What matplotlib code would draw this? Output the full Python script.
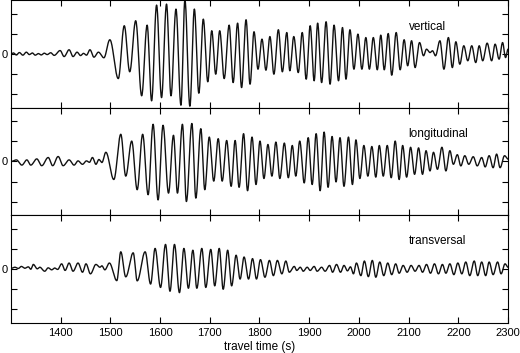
import numpy as np
import matplotlib
matplotlib.use('Agg')
import matplotlib.pyplot as plt

plt.rcParams['font.family'] = ['Liberation Sans', 'DejaVu Sans']

# extrema (time s, amplitude)
vert_t = [1300, 1305, 1311, 1317, 1324, 1331, 1337, 1343, 1349, 1355, 1361, 1367, 1373, 1380, 1387,
          1399, 1407, 1417, 1425, 1433, 1440, 1446, 1452, 1459, 1467, 1476, 1487, 1499, 1516, 1528,
          1539, 1551, 1563, 1574, 1583, 1593, 1603, 1613, 1622, 1632, 1642, 1650, 1660, 1669, 1678,
          1687, 1696, 1704, 1712, 1720, 1729, 1739, 1747, 1756, 1764, 1773, 1781, 1789, 1797, 1805,
          1813, 1821, 1829, 1838, 1846, 1855, 1861, 1869, 1878, 1886, 1894, 1902, 1910, 1917, 1925,
          1934, 1942, 1950, 1959, 1967, 1974, 1982, 1990, 1998, 2006, 2014, 2021, 2029, 2037, 2044,
          2051, 2059, 2066, 2075, 2083, 2091, 2098, 2106, 2113, 2122, 2130, 2136, 2143, 2148, 2154,
          2163, 2171, 2180, 2188, 2195, 2203, 2211, 2219, 2227, 2235, 2242, 2249, 2258, 2267, 2274,
          2282, 2289, 2295, 2300]
vert_a = [0.0, 0.06, -0.04, 0.08, -0.05, 0.1, -0.02, 0.06, -0.05, 0.03, -0.04, 0.05, -0.02, 0.07, -0.06,
          0.18, -0.12, 0.22, -0.12, 0.1, -0.07, 0.04, -0.05, 0.22, -0.15, 0.1, -0.18, 0.72, -1.22, 1.42,
          -0.88, 1.67, -2.08, 1.45, -2.33, 2.45, -2.17, 2.5, -2.08, 2.25, -2.55, 2.7, -2.6, 2.25, -1.95,
          1.75, -1.38, 1.17, -1.0, 1.17, -1.22, 1.45, -1.42, 1.55, -1.67, 1.72, -1.5, 1.12, -0.75, 0.75,
          -0.8, 0.88, -1.0, 1.22, -0.88, 1.08, -0.83, 0.88, -0.92, 1.08, -1.25, 1.42, -1.33, 1.55, -1.42,
          1.62, -1.5, 1.45, -1.33, 1.33, -1.25, 1.22, -0.75, 1.0, -0.75, 0.83, -0.75, 0.83, -0.78, 0.95,
          -0.78, 1.03, -1.05, 1.08, -0.78, 0.72, -0.58, 0.67, -0.67, 0.58, -0.08, 0.25, 0.08, 0.17, -0.08,
          0.67, -0.75, 0.83, -0.67, 0.62, -0.5, 0.42, -0.33, 0.42, -0.42, 0.42, -0.33, 0.55, -0.33, 0.5,
          -0.25, 0.58, -0.17, 0.25]

long_t = [1300, 1311, 1322, 1332, 1340, 1352, 1362, 1375, 1384, 1395, 1405, 1417, 1427, 1435, 1444,
          1452, 1458, 1464, 1471, 1477, 1483, 1491, 1507, 1521, 1531, 1543, 1554, 1565, 1576, 1586,
          1596, 1606, 1617, 1627, 1635, 1645, 1653, 1664, 1672, 1682, 1690, 1699, 1708, 1717, 1725,
          1734, 1743, 1751, 1759, 1768, 1776, 1785, 1793, 1801, 1809, 1817, 1825, 1833, 1841, 1850,
          1858, 1866, 1873, 1881, 1890, 1898, 1906, 1914, 1922, 1930, 1938, 1946, 1954, 1962, 1970,
          1979, 1987, 1994, 2002, 2010, 2018, 2026, 2034, 2041, 2049, 2057, 2065, 2073, 2081, 2088,
          2096, 2104, 2112, 2120, 2128, 2135, 2143, 2150, 2158, 2167, 2175, 2183, 2190, 2198, 2205,
          2213, 2221, 2230, 2238, 2247, 2254, 2262, 2270, 2277, 2284, 2293, 2300]
long_a = [0.0, 0.08, -0.18, 0.08, -0.18, 0.13, -0.21, 0.2, -0.21, 0.25, -0.21, 0.08, -0.18, 0.03, -0.14,
          0.03, -0.04, 0.2, -0.14, 0.1, -0.05, 0.46, -0.9, 1.36, -0.73, 1.02, -1.41, 1.36, -1.66, 1.86,
          -1.92, 1.81, -1.58, 1.31, -1.58, 1.86, -2.0, 1.9, -1.83, 1.64, -1.41, 1.22, -0.98, 1.14, -0.98,
          1.05, -1.24, 1.05, -1.29, 1.39, -1.46, 1.22, -1.15, 1.02, -0.85, 0.85, -0.73, 0.97, -0.85, 0.92,
          -0.81, 0.8, -0.73, 1.02, -1.07, 1.19, -1.15, 1.39, -1.46, 1.47, -1.29, 1.25, -1.02, 1.19, -1.24,
          1.22, -1.15, 1.08, -0.85, 0.8, -0.73, 0.75, -0.78, 0.8, -0.73, 0.8, -0.81, 1.02, -0.9, 0.8,
          -0.78, 0.71, -0.64, 0.68, -0.64, 0.54, -0.47, 0.46, -0.39, 0.71, -0.47, 0.54, -0.14, 0.34, -0.22,
          0.29, -0.14, 0.24, -0.22, 0.2, -0.27, 0.29, -0.31, 0.37, -0.31, 0.29, 0.12]

trans_t = [1300, 1308, 1315, 1321, 1328, 1335, 1340, 1345, 1353, 1358, 1368, 1375, 1382, 1388, 1394,
           1402, 1409, 1417, 1425, 1435, 1444, 1451, 1460, 1471, 1479, 1483, 1489, 1498, 1513, 1521,
           1531, 1546, 1554, 1570, 1581, 1590, 1601, 1611, 1620, 1629, 1639, 1648, 1657, 1666, 1674,
           1684, 1692, 1702, 1710, 1719, 1727, 1736, 1744, 1753, 1761, 1769, 1778, 1786, 1794, 1802,
           1811, 1820, 1828, 1836, 1845, 1853, 1860, 1870, 1875, 1882, 1888, 1896, 1902, 1910, 1916,
           1925, 1932, 1941, 1947, 1955, 1963, 1970, 1977, 1983, 1989, 1995, 2004, 2011, 2019, 2027,
           2034, 2042, 2050, 2058, 2066, 2074, 2081, 2089, 2097, 2105, 2113, 2121, 2128, 2136, 2144,
           2152, 2160, 2168, 2175, 2183, 2191, 2199, 2207, 2215, 2223, 2232, 2239, 2247, 2255, 2262,
           2270, 2279, 2286, 2294, 2300]
trans_a = [0.02, 0.08, 0.02, 0.12, 0.03, 0.1, -0.02, 0.22, 0.0, 0.08, -0.12, 0.05, -0.05, 0.04, -0.03,
           0.25, -0.08, 0.29, -0.12, 0.29, -0.17, 0.25, -0.25, 0.22, 0.08, 0.15, -0.05, 0.29, -0.59, 0.85,
           -0.4, 0.8, -0.6, 0.85, -0.76, 1.02, -0.93, 1.22, -1.12, 1.22, -1.19, 1.02, -0.97, 0.93, -0.97,
           1.02, -0.93, 0.97, -0.85, 1.02, -1.02, 0.93, -0.85, 0.68, -0.51, 0.59, -0.51, 0.51, -0.51, 0.46,
           -0.42, 0.42, -0.34, 0.42, -0.25, 0.39, -0.17, 0.12, -0.08, 0.08, -0.12, 0.08, -0.08, 0.12, -0.12,
           0.08, -0.12, 0.17, -0.17, 0.22, -0.17, 0.17, -0.1, 0.1, -0.25, 0.29, -0.34, 0.39, -0.39, 0.42,
           -0.42, 0.34, -0.34, 0.29, -0.29, 0.25, -0.22, 0.17, -0.17, 0.17, -0.12, 0.17, -0.17, 0.22, -0.22,
           0.25, -0.25, 0.22, -0.22, 0.25, -0.29, 0.29, -0.25, 0.34, -0.34, 0.39, -0.34, 0.34, -0.34, 0.34,
           -0.29, 0.34, -0.25, 0.25, 0.08]

labels = ['vertical', 'longitudinal', 'transversal']
xticks = [1400, 1500, 1600, 1700, 1800, 1900, 2000, 2100, 2200, 2300]


def smooth_trace(t_ext, a_ext, n=20):
    # half-cosine between successive extrema so the trace looks like a wave
    ts, ys = [], []
    s = np.linspace(0, 1, n, endpoint=False)
    for i in range(len(t_ext) - 1):
        ts.append(t_ext[i] + (t_ext[i + 1] - t_ext[i]) * s)
        ys.append(a_ext[i] + (a_ext[i + 1] - a_ext[i]) * (1 - np.cos(np.pi * s)) / 2)
    ts.append([t_ext[-1]])
    ys.append([a_ext[-1]])
    return np.concatenate(ts), np.concatenate(ys)


fig, axes = plt.subplots(3, 1, sharex=True, figsize=(5.2, 3.53), dpi=100)
fig.subplots_adjust(left=0.021, right=0.977, top=0.9986, bottom=0.0864, hspace=0)

traces = [(vert_t, vert_a), (long_t, long_a), (trans_t, trans_a)]
for ax, (tt, aa), lab in zip(axes, traces, labels):
    x, y = smooth_trace(tt, aa)
    ax.plot(x, y, color='#111111', lw=1.0)
    ax.set_xlim(1300, 2300)
    ax.set_ylim(-2.68, 2.68)
    ax.set_yticks([-2, -1, 0, 1, 2])
    ax.set_yticklabels(['', '', '0', '', ''])
    ax.set_xticks(xticks)
    ax.tick_params(direction='in', length=4, width=0.8, top=True, right=True,
                   labelsize=8, pad=4)
    ax.tick_params(axis='y', pad=2.5)
    for sp in ax.spines.values():
        sp.set_linewidth(0.8)
    ax.text(0.80, 0.755, lab, transform=ax.transAxes, ha='left', va='center', fontsize=8.5)

axes[-1].set_xlabel('travel time (s)', fontsize=8.5, labelpad=2)

plt.savefig('out.png', dpi=100)
